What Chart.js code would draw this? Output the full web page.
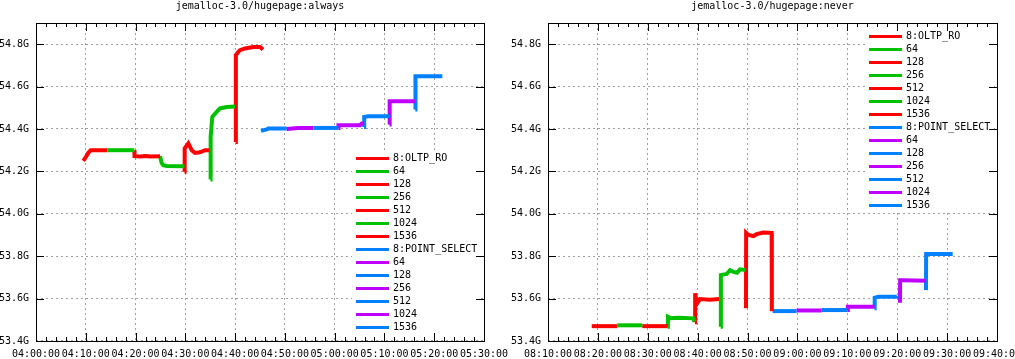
<!DOCTYPE html>
<html>
<head>
<meta charset="utf-8">
<script src="https://cdn.jsdelivr.net/npm/chart.js@4.4.1/dist/chart.umd.min.js"></script>
<style>
  html, body { margin: 0; padding: 0; background: #fff; }
  body { width: 1015px; height: 359px; position: relative; overflow: hidden; }
  canvas { position: absolute; top: 0; }
  #always { left: 0; }
  #never { left: 500px; }
</style>
</head>
<body>
<canvas id="always" width="520" height="359"></canvas>
<canvas id="never" width="515" height="359"></canvas>
<script>
// thread counts per run, first entry of each benchmark gets the benchmark name
const threadCounts = ['8', '64', '128', '256', '512', '1024', '1536'];
const yRange = [53.4, 54.9];
const alwaysRange = ['04:00:00', '05:30:00'];
const neverRange = ['08:10:00', '09:40:00'];

// [time, bytes in G] per run
const alwaysOltpRo = [
    [['04:09:30', 54.250], ['04:10:03', 54.269], ['04:10:30', 54.287], ['04:10:59', 54.300], ['04:14:19', 54.300]],
    [['04:14:19', 54.300], ['04:19:45', 54.300]],
    [['04:19:45', 54.300], ['04:19:48', 54.272], ['04:21:00', 54.270], ['04:22:00', 54.273], ['04:23:00', 54.270], ['04:24:55', 54.272]],
    [['04:24:55', 54.272], ['04:25:15', 54.239], ['04:25:34', 54.229], ['04:26:15', 54.226], ['04:29:50', 54.224]],
    [['04:29:50', 54.198], ['04:29:52', 54.308], ['04:30:36', 54.332], ['04:31:17', 54.300], ['04:31:57', 54.287], ['04:32:57', 54.290], ['04:33:57', 54.300], ['04:34:51', 54.300]],
    [['04:35:03', 54.162], ['04:35:05', 54.363], ['04:35:25', 54.457], ['04:36:18', 54.481], ['04:36:58', 54.497], ['04:38:19', 54.504], ['04:39:59', 54.506]],
    [['04:40:07', 54.339], ['04:40:09', 54.748], ['04:40:39', 54.764], ['04:40:59', 54.772], ['04:41:59', 54.780], ['04:43:39', 54.787], ['04:45:00', 54.787], ['04:45:36', 54.775]]
];
const alwaysPointSelect = [
    [['04:45:12', 54.391], ['04:46:21', 54.398], ['04:46:40', 54.402], ['04:50:22', 54.402]],
    [['04:50:22', 54.400], ['04:52:42', 54.405], ['04:55:43', 54.405]],
    [['04:55:43', 54.405], ['05:00:44', 54.405]],
    [['05:00:44', 54.405], ['05:00:46', 54.418], ['05:05:05', 54.418], ['05:05:26', 54.426], ['05:05:54', 54.426]],
    [['05:05:54', 54.410], ['05:05:56', 54.457], ['05:06:46', 54.460], ['05:10:43', 54.460], ['05:11:01', 54.466]],
    [['05:11:01', 54.421], ['05:11:03', 54.531], ['05:16:12', 54.531]],
    [['05:16:12', 54.492], ['05:16:14', 54.649], ['05:21:38', 54.649]]
];
const neverOltpRo = [
    [['08:18:46', 53.470], ['08:23:53', 53.470]],
    [['08:23:53', 53.474], ['08:28:54', 53.474]],
    [['08:28:54', 53.470], ['08:34:00', 53.470]],
    [['08:34:00', 53.467], ['08:34:02', 53.514], ['08:34:36', 53.507], ['08:36:07', 53.510], ['08:39:08', 53.507], ['08:39:20', 53.491]],
    [['08:39:28', 53.488], ['08:39:30', 53.625], ['08:39:52', 53.577], ['08:40:28', 53.598], ['08:42:28', 53.595], ['08:44:17', 53.598]],
    [['08:44:37', 53.467], ['08:44:39', 53.711], ['08:45:49', 53.716], ['08:46:29', 53.734], ['08:47:09', 53.726], ['08:47:53', 53.722], ['08:48:29', 53.738], ['08:49:38', 53.735]],
    [['08:49:41', 53.554], ['08:49:43', 53.910], ['08:50:09', 53.900], ['08:51:09', 53.895], ['08:51:50', 53.904], ['08:53:09', 53.912], ['08:54:50', 53.910], ['08:54:52', 53.540]]
];
const neverPointSelect = [
    [['08:55:02', 53.541], ['08:59:49', 53.541]],
    [['08:59:49', 53.544], ['09:04:52', 53.544]],
    [['09:04:52', 53.546], ['09:10:04', 53.546]],
    [['09:10:04', 53.546], ['09:10:06', 53.561], ['09:15:27', 53.561]],
    [['09:15:27', 53.554], ['09:15:29', 53.604], ['09:16:13', 53.609], ['09:19:54', 53.609], ['09:20:00', 53.613]],
    [['09:20:33', 53.580], ['09:20:35', 53.687], ['09:21:13', 53.687], ['09:25:43', 53.684]],
    [['09:25:46', 53.640], ['09:25:48', 53.810], ['09:26:14', 53.810], ['09:31:07', 53.810]]
];

const FONT = '10px "DejaVu Sans Mono", "Liberation Mono", monospace';
const oltpColors = ['#ff0000', '#00c000'];
const pointColors = ['#0080ff', '#c000ff'];

function toSec(s) {
    const [h, m, sec] = s.split(':').map(Number);
    return h * 3600 + m * 60 + sec;
}

function fmtTime(v) {
    const h = Math.floor(v / 3600), m = Math.floor(v % 3600 / 60), s = v % 60;
    return [h, m, s].map(n => String(n).padStart(2, '0')).join(':');
}

function makeDatasets(runs, bench, colors) {
    return runs.map((run, i) => ({
        label: i === 0 ? threadCounts[0] + ':' + bench : threadCounts[i],
        data: run.map(([t, v]) => ({ x: toSec(t), y: v })),
        borderColor: colors[i % 2],
        backgroundColor: colors[i % 2],
        borderWidth: 4,
        borderJoinStyle: 'miter',
        pointRadius: 0,
        tension: 0,
        fill: false
    }));
}

// gnuplot style frame, inward ticks, key box and title
const gnuplotFrame = {
    id: 'gnuplotFrame',
    afterDatasetsDraw(chart, args, opts) {
        const ctx = chart.ctx;
        const area = chart.chartArea;
        const ds = chart.data.datasets;
        const rowH = 13;
        const x0 = area.right - 128, x1 = area.right - 95, tx = area.right - 91;
        const y0 = opts.keyAt === 'top' ? area.top + 13 : area.bottom - 14 - (ds.length - 1) * rowH;
        ctx.save();
        ctx.fillStyle = '#fff';
        ctx.fillRect(x0 - 4, y0 - 7, area.right - 3 - (x0 - 4), (ds.length - 1) * rowH + 14);
        ctx.font = FONT;
        ctx.textBaseline = 'middle';
        ctx.textAlign = 'left';
        ds.forEach((d, i) => {
            const y = Math.round(y0 + i * rowH) + 0.5;
            ctx.strokeStyle = d.borderColor;
            ctx.lineWidth = 3;
            ctx.beginPath();
            ctx.moveTo(x0, y);
            ctx.lineTo(x1, y);
            ctx.stroke();
            ctx.fillStyle = '#000';
            ctx.fillText(d.label, tx, y);
        });
        ctx.restore();
    },
    afterDraw(chart, args, opts) {
        const ctx = chart.ctx;
        const area = chart.chartArea;
        const xs = chart.scales.x, ys = chart.scales.y;
        ctx.save();
        ctx.strokeStyle = '#000';
        ctx.lineWidth = 1;
        ctx.beginPath();
        xs.ticks.forEach((t, i) => {
            const px = Math.round(xs.getPixelForTick(i)) + 0.5;
            const len = t.value % 600 === 0 ? 8 : 4;
            ctx.moveTo(px, area.bottom);
            ctx.lineTo(px, area.bottom - len);
            ctx.moveTo(px, area.top);
            ctx.lineTo(px, area.top + len);
        });
        ys.ticks.forEach((t, i) => {
            const py = Math.round(ys.getPixelForTick(i)) + 0.5;
            ctx.moveTo(area.left, py);
            ctx.lineTo(area.left + 8, py);
            ctx.moveTo(area.right, py);
            ctx.lineTo(area.right - 8, py);
        });
        ctx.stroke();
        ctx.strokeRect(area.left + 0.5, area.top + 0.5, area.right - area.left, area.bottom - area.top);
        ctx.fillStyle = '#000';
        ctx.font = FONT;
        ctx.textAlign = 'center';
        ctx.textBaseline = 'alphabetic';
        ctx.fillText(opts.title, (area.left + area.right) / 2, 9);
        ctx.restore();
    }
};

function buildChart(id, title, range, datasets, yAxisWidth, rightPad, keyAt) {
    const tickFont = { family: '"DejaVu Sans Mono", "Liberation Mono", monospace', size: 10 };
    return new Chart(document.getElementById(id), {
        type: 'line',
        data: { datasets: datasets },
        options: {
            responsive: false,
            animation: false,
            devicePixelRatio: 1,
            events: [],
            layout: { padding: { left: 0, top: 23, right: rightPad, bottom: 0 } },
            plugins: {
                legend: { display: false },
                title: { display: false },
                tooltip: { enabled: false },
                gnuplotFrame: { title: title, keyAt: keyAt }
            },
            scales: {
                x: {
                    type: 'linear',
                    min: toSec(range[0]),
                    max: toSec(range[1]),
                    afterFit: s => { s.height = 18; s.paddingLeft = 0; s.paddingRight = 0; },
                    ticks: {
                        stepSize: 120,
                        autoSkip: false,
                        maxRotation: 0,
                        minRotation: 0,
                        padding: 7,
                        color: '#000',
                        font: tickFont,
                        callback: v => v % 600 === 0 ? fmtTime(v) : ''
                    },
                    grid: {
                        drawTicks: false,
                        lineWidth: 1,
                        color: c => c.tick && c.tick.value % 600 === 0 ? '#a0a0a0' : 'rgba(0,0,0,0)'
                    },
                    border: { display: false, dash: [2, 3] }
                },
                y: {
                    min: yRange[0],
                    max: yRange[1],
                    afterFit: s => { s.width = yAxisWidth; s.paddingTop = 0; s.paddingBottom = 0; },
                    ticks: {
                        stepSize: 0.2,
                        includeBounds: false,
                        padding: 7,
                        color: '#000',
                        font: tickFont,
                        callback: v => v.toFixed(1) + 'G'
                    },
                    grid: { drawTicks: false, lineWidth: 1, color: '#a0a0a0' },
                    border: { display: false, dash: [2, 3] }
                }
            }
        },
        plugins: [gnuplotFrame]
    });
}

buildChart('always', 'jemalloc-3.0/hugepage:always', alwaysRange,
    makeDatasets(alwaysOltpRo, 'OLTP_RO', oltpColors).concat(makeDatasets(alwaysPointSelect, 'POINT_SELECT', pointColors)),
    36, 36, 'bottom');
buildChart('never', 'jemalloc-3.0/hugepage:never', neverRange,
    makeDatasets(neverOltpRo, 'OLTP_RO', oltpColors).concat(makeDatasets(neverPointSelect, 'POINT_SELECT', pointColors)),
    48, 18, 'top');
</script>
</body>
</html>
